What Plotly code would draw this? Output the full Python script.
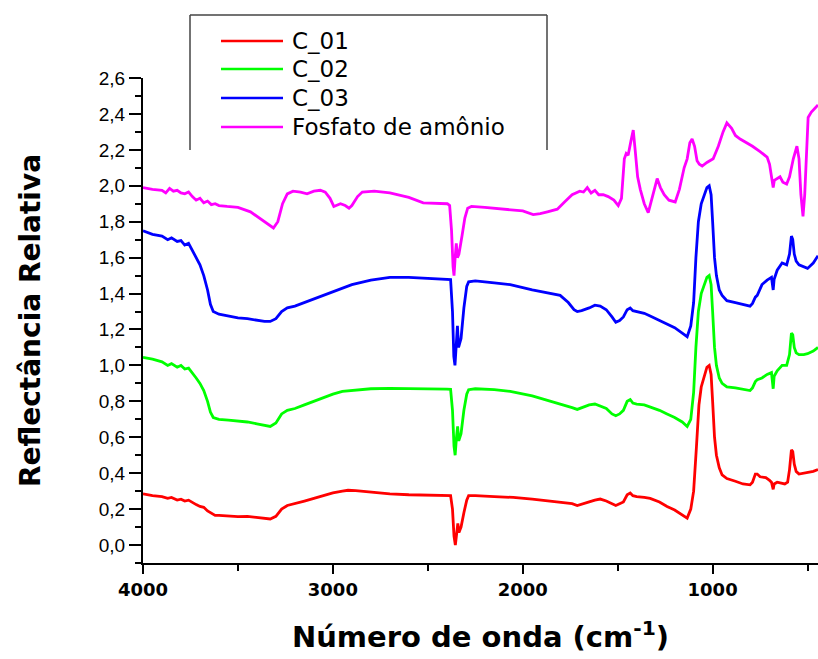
import plotly.graph_objects as go

# ---------------- data ----------------
c01_x = [4000,3950,3900,3870,3850,3820,3800,3780,3760,3740,3720,3700,3680,3660,3640,3620,3600,3550,3500,3450,3400,3360,3330,3300,3270,3240,3200,3150,3100,3050,3000,2950,2920,2880,2800,2700,2600,2500,2400,2380,2370,2362,2355,2348,2342,2336,2325,2310,2295,2285,2250,2150,2050,1950,1850,1780,1740,1713,1700,1680,1650,1620,1592,1560,1530,1510,1490,1470,1450,1434,1420,1400,1360,1329,1280,1240,1200,1160,1134,1115,1100,1085,1072,1060,1045,1030,1018,1008,1000,990,980,965,950,925,880,840,803,790,775,765,750,720,700,690,681,676,660,640,620,605,595,585,578,570,560,545,520,500,470,445]
c01_y = [0.285,0.275,0.27,0.26,0.265,0.25,0.255,0.245,0.25,0.235,0.225,0.215,0.21,0.19,0.175,0.165,0.165,0.16,0.158,0.16,0.155,0.15,0.145,0.16,0.2,0.22,0.23,0.245,0.26,0.275,0.29,0.3,0.305,0.303,0.295,0.285,0.28,0.277,0.276,0.275,0.2,0.05,0.0,0.06,0.12,0.07,0.1,0.18,0.25,0.275,0.275,0.27,0.265,0.255,0.245,0.235,0.23,0.22,0.225,0.23,0.24,0.25,0.256,0.245,0.23,0.22,0.23,0.24,0.28,0.29,0.275,0.27,0.265,0.26,0.24,0.215,0.195,0.17,0.15,0.2,0.3,0.55,0.78,0.88,0.94,0.99,1.0,0.95,0.8,0.6,0.5,0.43,0.39,0.37,0.355,0.34,0.335,0.35,0.395,0.395,0.38,0.375,0.36,0.35,0.31,0.34,0.35,0.345,0.34,0.35,0.42,0.53,0.52,0.45,0.41,0.395,0.4,0.405,0.41,0.42]

c02_x = [4000,3950,3900,3870,3850,3820,3800,3780,3760,3740,3720,3700,3680,3660,3645,3630,3600,3550,3500,3450,3400,3360,3330,3300,3270,3240,3200,3150,3100,3050,3000,2950,2900,2800,2700,2600,2500,2400,2380,2370,2362,2356,2349,2343,2337,2325,2310,2295,2285,2250,2150,2066,1950,1850,1780,1740,1713,1690,1650,1620,1592,1560,1530,1510,1490,1470,1450,1434,1420,1400,1360,1329,1280,1240,1200,1160,1134,1115,1100,1088,1075,1060,1045,1030,1018,1008,1000,990,980,965,950,925,880,840,803,790,775,765,740,713,690,681,676,660,634,610,595,585,578,570,560,545,520,500,470,445]
c02_y = [1.045,1.035,1.02,1.0,1.01,0.99,1.0,0.98,0.985,0.96,0.93,0.9,0.86,0.8,0.74,0.71,0.7,0.695,0.69,0.685,0.675,0.665,0.66,0.68,0.73,0.75,0.76,0.78,0.8,0.82,0.84,0.855,0.86,0.87,0.872,0.872,0.87,0.868,0.867,0.75,0.55,0.5,0.6,0.66,0.58,0.62,0.75,0.84,0.865,0.87,0.865,0.855,0.83,0.8,0.78,0.765,0.755,0.765,0.78,0.785,0.775,0.76,0.73,0.72,0.73,0.75,0.8,0.81,0.79,0.785,0.78,0.77,0.75,0.73,0.71,0.685,0.66,0.7,0.85,1.1,1.3,1.4,1.44,1.49,1.5,1.45,1.3,1.1,1.0,0.93,0.9,0.88,0.875,0.865,0.86,0.875,0.91,0.92,0.93,0.95,0.96,0.87,0.94,0.97,1.0,1.0,1.06,1.18,1.17,1.1,1.07,1.06,1.06,1.065,1.08,1.1]

c03_x = [4000,3950,3900,3870,3850,3820,3800,3780,3760,3740,3720,3700,3680,3660,3645,3630,3600,3550,3500,3450,3400,3360,3330,3300,3270,3240,3200,3150,3100,3050,3000,2950,2900,2800,2700,2600,2500,2400,2380,2370,2363,2357,2350,2344,2338,2325,2310,2295,2285,2250,2150,2066,1950,1850,1803,1760,1730,1713,1690,1650,1620,1592,1560,1530,1510,1490,1470,1450,1434,1420,1400,1360,1329,1280,1240,1200,1160,1134,1115,1100,1088,1075,1060,1045,1030,1018,1008,1000,990,980,965,950,925,880,840,803,790,775,765,740,713,690,681,676,660,634,610,595,585,578,570,560,545,520,500,470,445]
c03_y = [1.75,1.73,1.72,1.7,1.71,1.69,1.695,1.67,1.68,1.64,1.6,1.56,1.5,1.42,1.34,1.3,1.285,1.275,1.265,1.26,1.25,1.245,1.245,1.26,1.3,1.32,1.33,1.35,1.37,1.39,1.41,1.43,1.45,1.475,1.49,1.49,1.485,1.48,1.478,1.3,1.05,1.0,1.12,1.22,1.1,1.15,1.32,1.44,1.465,1.47,1.46,1.45,1.42,1.4,1.39,1.35,1.31,1.3,1.305,1.32,1.335,1.33,1.31,1.27,1.24,1.25,1.27,1.31,1.32,1.305,1.3,1.29,1.275,1.25,1.23,1.21,1.18,1.16,1.22,1.35,1.6,1.8,1.9,1.94,1.99,2.0,1.95,1.8,1.6,1.5,1.42,1.39,1.36,1.35,1.34,1.33,1.345,1.38,1.39,1.45,1.475,1.49,1.42,1.48,1.53,1.57,1.56,1.62,1.72,1.7,1.62,1.58,1.56,1.55,1.54,1.57,1.61]

fa_x = [4000,3950,3900,3880,3860,3840,3820,3800,3780,3760,3740,3720,3700,3680,3660,3640,3620,3600,3557,3500,3434,3400,3360,3330,3313,3290,3265,3240,3210,3170,3136,3100,3066,3040,3015,2995,2975,2960,2935,2915,2900,2870,2845,2782,2700,2600,2524,2450,2397,2385,2375,2367,2362,2356,2350,2344,2336,2320,2305,2290,2270,2200,2100,2000,1945,1908,1870,1818,1780,1740,1700,1680,1660,1640,1620,1600,1576,1550,1520,1497,1480,1465,1455,1445,1430,1418,1408,1395,1381,1360,1339,1320,1300,1292,1275,1255,1230,1197,1175,1150,1134,1120,1108,1095,1082,1070,1055,1030,997,970,945,925,900,880,855,820,790,750,713,700,690,681,675,660,645,630,610,595,575,556,545,535,524,515,505,497,480,460,445]
fa_y = [1.99,1.98,1.975,1.96,1.985,1.97,1.975,1.96,1.955,1.965,1.94,1.92,1.93,1.905,1.915,1.895,1.9,1.89,1.885,1.88,1.855,1.83,1.8,1.775,1.765,1.8,1.9,1.955,1.97,1.965,1.955,1.97,1.975,1.965,1.93,1.885,1.895,1.9,1.89,1.875,1.89,1.94,1.965,1.97,1.96,1.935,1.905,1.9,1.9,1.89,1.75,1.55,1.5,1.6,1.68,1.6,1.62,1.72,1.82,1.875,1.885,1.88,1.87,1.86,1.84,1.845,1.855,1.87,1.91,1.95,1.97,1.965,1.99,1.96,1.975,1.95,1.95,1.94,1.92,1.89,1.93,2.15,2.18,2.17,2.25,2.31,2.2,2.05,1.98,1.9,1.85,1.93,2.02,2.04,1.99,1.95,1.92,1.91,1.98,2.1,2.15,2.24,2.26,2.22,2.14,2.12,2.11,2.13,2.15,2.22,2.3,2.35,2.32,2.28,2.26,2.24,2.22,2.19,2.16,2.12,2.05,1.99,2.03,2.04,2.05,2.02,2.01,2.05,2.15,2.22,2.15,1.95,1.83,1.95,2.25,2.38,2.41,2.43,2.45]

series_names = ["C_01", "C_02", "C_03", "Fosfato de amônio"]
series_colors = ["#ff0000", "#00ff00", "#0000ff", "#ff00ff"]
series_x = [c01_x, c02_x, c03_x, fa_x]
series_y = [c01_y, c02_y, c03_y, fa_y]

y_tickvals = [0.0, 0.2, 0.4, 0.6, 0.8, 1.0, 1.2, 1.4, 1.6, 1.8, 2.0, 2.2, 2.4, 2.6]
y_ticktext = ["0,0", "0,2", "0,4", "0,6", "0,8", "1,0", "1,2", "1,4", "1,6", "1,8", "2,0", "2,2", "2,4", "2,6"]
x_tickvals = [4000, 3000, 2000, 1000]
x_ticktext = ["4000", "3000", "2000", "1000"]

x_title = "Número de onda (cm<sup>-1</sup>)"
y_title = "Reflectância Relativa"

# ---------------- layout geometry (pixels) ----------------
W, H = 818, 659
L, R, T, B = 143, 0, 78, 96          # plot box: x 143..818, y 78..563
PW, PH = W - L - R, H - T - B

def px(xp):
    return (xp - L) / PW

def py(yp):
    return (H - B - yp) / PH

fig = go.Figure()
for nm, col, xs, ys in zip(series_names, series_colors, series_x, series_y):
    fig.add_trace(go.Scatter(x=xs, y=ys, mode="lines", name=nm,
                             line=dict(color=col, width=2.8), showlegend=False))

arial = "Arial, Liberation Sans, sans-serif"
wide = "DejaVu Sans, Verdana, sans-serif"

fig.update_layout(
    width=W, height=H,
    margin=dict(l=L, r=R, t=T, b=B, pad=0),
    paper_bgcolor="white", plot_bgcolor="white",
    showlegend=False,
    xaxis=dict(range=[4000, 445], showgrid=False, zeroline=False,
               showline=True, linecolor="black", linewidth=2,
               ticks="outside", ticklen=9, tickwidth=2, tickcolor="black",
               tickvals=x_tickvals, ticktext=x_ticktext,
               tickfont=dict(family=wide, size=18, color="black", weight="bold"),
               title=dict(text=x_title, standoff=28,
                          font=dict(family=wide, size=29, color="black", weight="bold")),
               minor=dict(tickvals=[3500, 2500, 1500, 500], ticks="outside",
                          ticklen=6, tickwidth=2, tickcolor="black")),
    yaxis=dict(range=[-0.1, 2.6], showgrid=False, zeroline=False,
               showline=True, linecolor="black", linewidth=2,
               ticks="outside", ticklen=12, tickwidth=2, tickcolor="black",
               tickvals=y_tickvals, ticktext=y_ticktext,
               tickfont=dict(family=arial, size=19, color="black"),
               title=dict(text=y_title, standoff=50,
                          font=dict(family=wide, size=28, color="black", weight="bold")),
               minor=dict(dtick=0.1, tick0=0, ticks="outside",
                          ticklen=6, tickwidth=2, tickcolor="black")),
)

# legend box (open at bottom, as in the reference)
box_l, box_r, box_t, box_b = 190, 547, 15, 150
fig.add_shape(type="line", xref="paper", yref="paper", x0=px(box_l), x1=px(box_r),
              y0=py(box_t), y1=py(box_t), line=dict(color="#444", width=1.5))
fig.add_shape(type="line", xref="paper", yref="paper", x0=px(box_l), x1=px(box_l),
              y0=py(box_t), y1=py(box_b), line=dict(color="#444", width=1.5))
fig.add_shape(type="line", xref="paper", yref="paper", x0=px(box_r), x1=px(box_r),
              y0=py(box_t), y1=py(box_b), line=dict(color="#444", width=1.5))

row_y = [41, 69, 98, 127]
for nm, col, ry in zip(series_names, series_colors, row_y):
    fig.add_shape(type="line", xref="paper", yref="paper", x0=px(221), x1=px(283),
                  y0=py(ry), y1=py(ry), line=dict(color=col, width=2.5))
    fig.add_annotation(xref="paper", yref="paper", x=px(290), y=py(ry), text=nm,
                       showarrow=False, xanchor="left", yanchor="middle",
                       font=dict(family=wide, size=23, color="black"))

fig.write_html("out.html")
